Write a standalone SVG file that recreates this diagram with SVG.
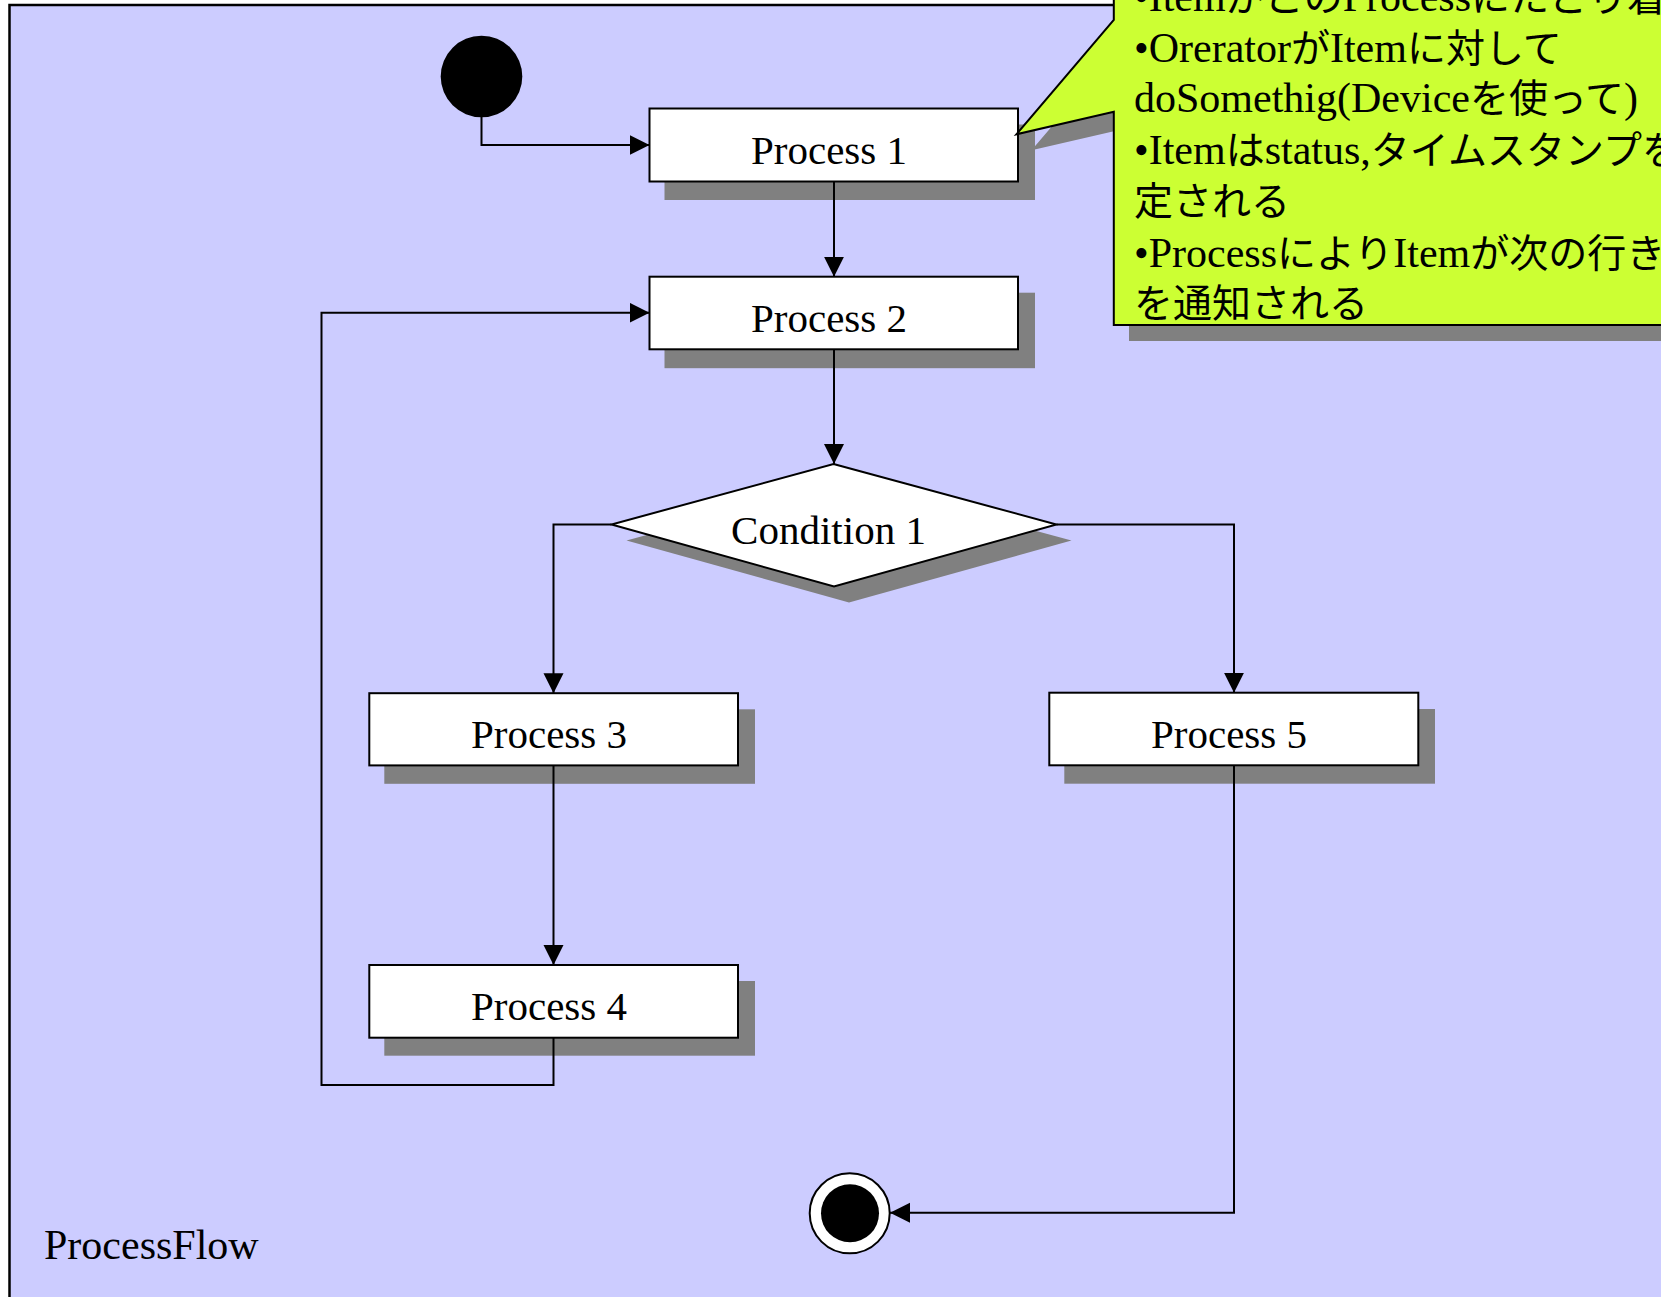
<svg xmlns="http://www.w3.org/2000/svg" width="1661" height="1297" viewBox="0 0 1661 1297">
  <style>
    .frame { fill: #CCCCFF; stroke: #000; stroke-width: 2.5; }
    .shadow { fill: #808080; }
    .box { fill: #FFFFFF; stroke: #000; stroke-width: 2; }
    .lbl { font-family: "Liberation Serif", "Times New Roman", serif; font-size: 41px; text-anchor: middle; fill: #000; }
    .title { font-family: "Liberation Serif", "Times New Roman", serif; font-size: 42px; fill: #000; }
    .conn { fill: none; stroke: #000; stroke-width: 2; marker-end: url(#arrow); }
    .note { fill: #CCFF33; stroke: #000; stroke-width: 2; }
    .notetext { font-family: "Liberation Serif", "Noto Sans CJK JP", serif; font-size: 42px; fill: #000; }
    .jp { font-family: "Noto Sans CJK JP", sans-serif; font-size: 39px; }
  </style>
  <defs>
    <marker id="arrow" markerUnits="userSpaceOnUse" markerWidth="22" markerHeight="22" refX="20" refY="10" orient="auto">
      <path d="M0,0 L20,10 L0,20 z" fill="#000"/>
    </marker>
  </defs>

  <!-- page background and activity frame -->
  <rect x="0" y="0" width="1661" height="1297" fill="#FFFFFF"/>
  <rect class="frame" x="9.5" y="5" width="1700" height="1400"/>
  <text class="title" x="44" y="1259">ProcessFlow</text>

  <g id="start">
    <circle cx="481.5" cy="76.5" r="40.8" fill="#000"/>
  </g>

  <g id="process1">
    <rect class="shadow" x="664.5" y="124.5" width="370.5" height="75.5"/>
    <rect class="box" x="649.5" y="108.5" width="368.5" height="73"/>
    <text class="lbl" x="829" y="163.5">Process 1</text>
  </g>

  <g id="process2">
    <rect class="shadow" x="664.5" y="292.7" width="370.5" height="75.5"/>
    <rect class="box" x="649.5" y="276.7" width="368.5" height="72.6"/>
    <text class="lbl" x="829" y="331.7">Process 2</text>
  </g>

  <g id="condition1">
    <polygon class="shadow" points="848.5,480 1071.5,540.5 849,602.5 626.5,540.5"/>
    <polygon class="box" points="833.5,464 1056.5,524.5 834,586.5 611.5,524.5"/>
    <text class="lbl" x="828.5" y="544">Condition 1</text>
  </g>

  <g id="process3">
    <rect class="shadow" x="384.3" y="709.3" width="370.7" height="74.5"/>
    <rect class="box" x="369.3" y="693.2" width="368.7" height="72.2"/>
    <text class="lbl" x="549" y="748.3">Process 3</text>
  </g>

  <g id="process4">
    <rect class="shadow" x="384.3" y="981" width="370.7" height="74.7"/>
    <rect class="box" x="369.3" y="965" width="368.7" height="72.7"/>
    <text class="lbl" x="549" y="1019.5">Process 4</text>
  </g>

  <g id="process5">
    <rect class="shadow" x="1064.3" y="709" width="370.7" height="74.7"/>
    <rect class="box" x="1049.3" y="692.7" width="369" height="72.6"/>
    <text class="lbl" x="1229" y="747.5">Process 5</text>
  </g>

  <g id="end">
    <circle cx="849.7" cy="1213.3" r="40" fill="#FFFFFF" stroke="#000" stroke-width="2"/>
    <circle cx="850" cy="1213.3" r="29" fill="#000"/>
  </g>

  <g id="connectors">
    <path class="conn" d="M481.5,117 V145 H649.5"/>
    <path class="conn" d="M834,181.5 V276.7"/>
    <path class="conn" d="M834,349.3 V464"/>
    <path class="conn" d="M611.5,524.5 H553.5 V693.2"/>
    <path class="conn" d="M1056.5,524.5 H1234 V692.7"/>
    <path class="conn" d="M553.5,765.4 V965"/>
    <path class="conn" d="M553.5,1037.7 V1085 H321.5 V312.7 H649.5"/>
    <path class="conn" d="M1234,765.3 V1212.7 H890"/>
  </g>

  <g id="note">
    <polygon class="shadow" points="1129,-30 1129,36 1031.5,150.3 1129,127.7 1129,341 1720,341 1720,-30"/>
    <polygon class="note" points="1113.8,-30 1113.8,20 1016.4,134.3 1113.8,111.7 1113.8,325 1705,325 1705,-30"/>
    <text class="notetext" x="1134" y="10.7">•Item<tspan class="jp">がこの</tspan>Process<tspan class="jp">にたどり着く</tspan></text>
    <text class="notetext" x="1134" y="61.7">•Orerator<tspan class="jp">が</tspan>Item<tspan class="jp">に対して</tspan></text>
    <text class="notetext" x="1134" y="112.2">doSomethig(Device<tspan class="jp">を使って</tspan>)</text>
    <text class="notetext" x="1134" y="163.5">•Item<tspan class="jp">は</tspan>status,<tspan class="jp">タイムスタンプを設</tspan></text>
    <text class="notetext" x="1134" y="214.5"><tspan class="jp">定される</tspan></text>
    <text class="notetext" x="1134" y="266.5">•Process<tspan class="jp">により</tspan>Item<tspan class="jp">が次の行き先</tspan></text>
    <text class="notetext" x="1134" y="316.5"><tspan class="jp">を通知される</tspan></text>
  </g>
</svg>
